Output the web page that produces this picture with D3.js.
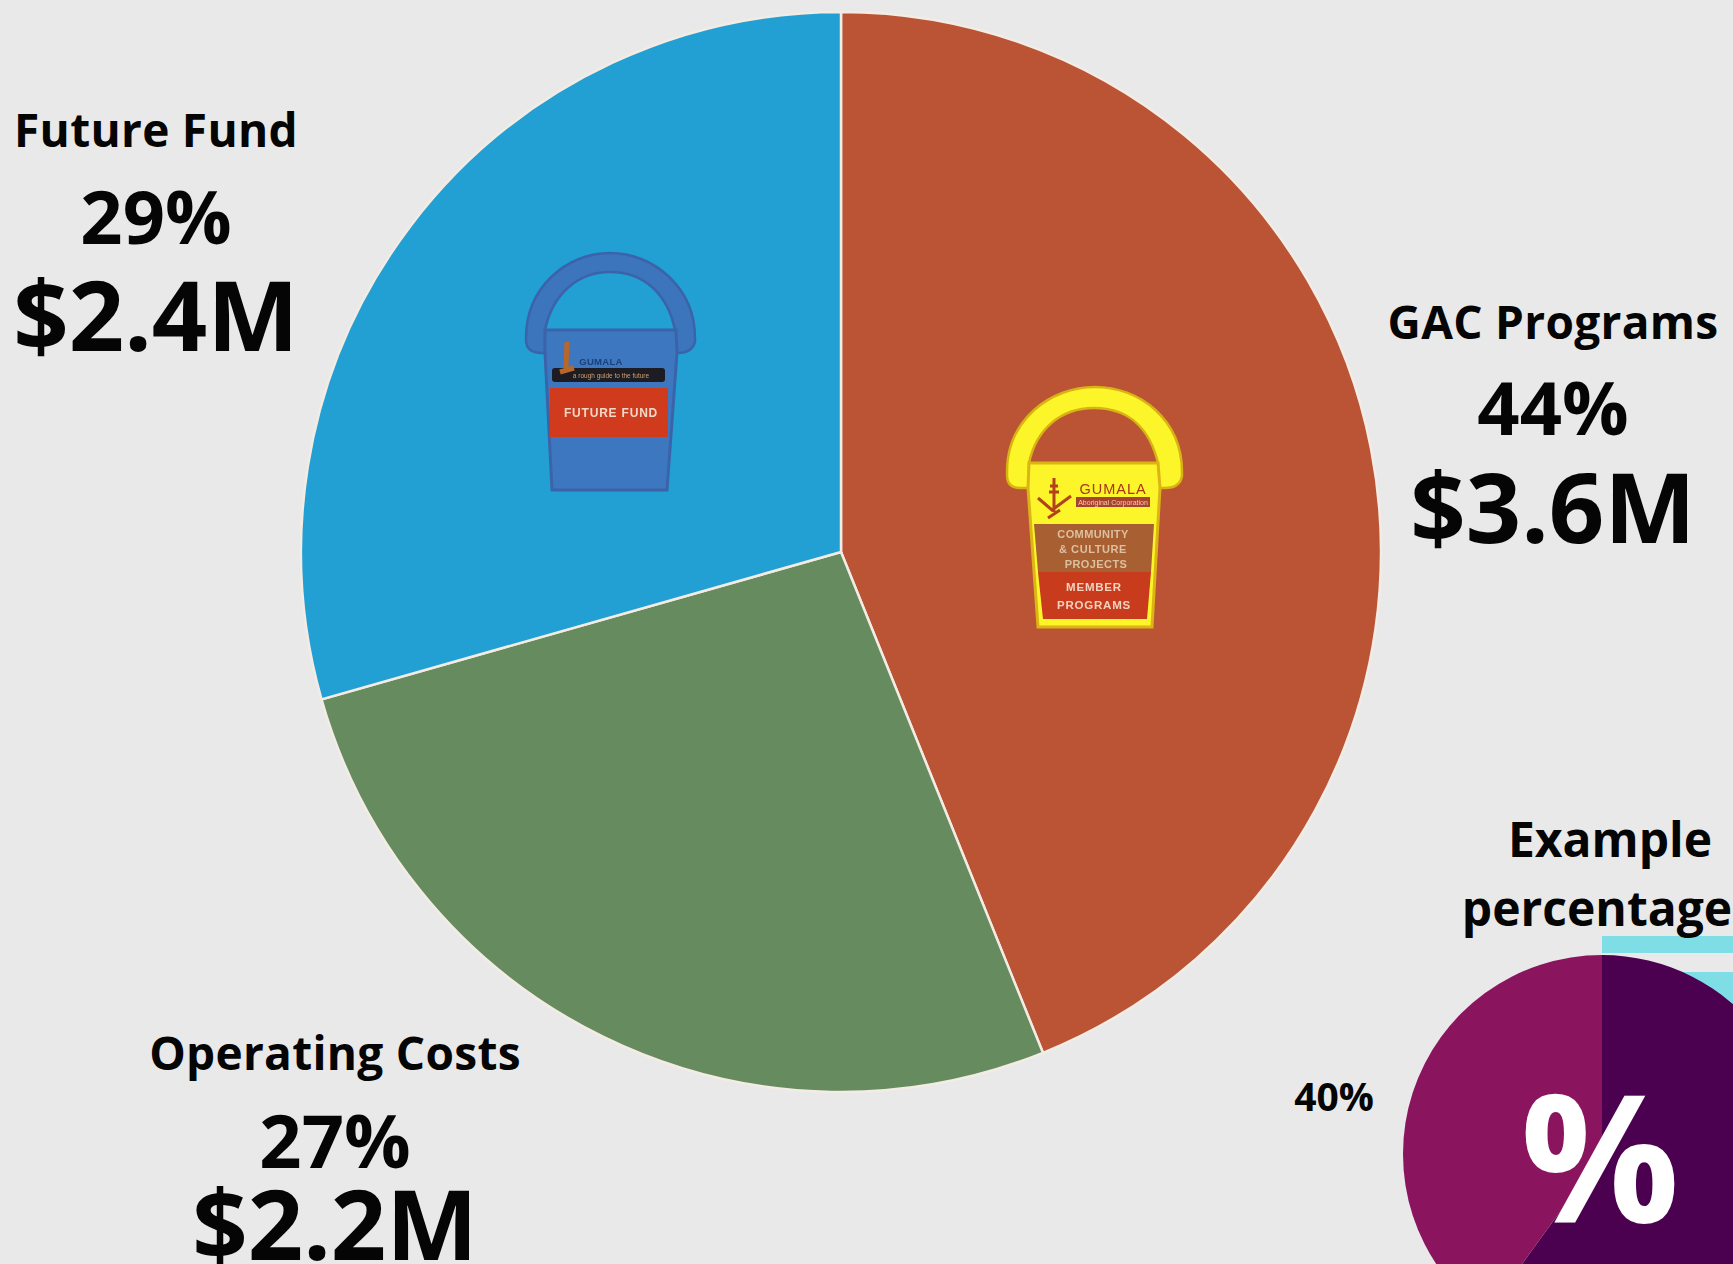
<!DOCTYPE html>
<html><head><meta charset="utf-8">
<script src="https://cdnjs.cloudflare.com/ajax/libs/d3/7.8.5/d3.min.js"></script>
<style>html,body{margin:0;padding:0;background:#e9e9e9;overflow:hidden}svg{display:block}text{font-family:"Open Sans",sans-serif;font-weight:700;fill:#050505;text-anchor:middle}</style>
</head><body><svg id="c" width="1733" height="1264"></svg>
<script>
const categories=["GAC Programs","Operating Costs","Future Fund"];
const shares=[43.9,26.7,29.4];
const percents=["44%","27%","29%"];
const amounts=["$3.6M","$2.2M","$2.4M"];
const colors=["#bb5335","#668b5e","#22a0d4"];
const exampleLabels=["Rest","40%"];
const exampleValues=[60,40];
const exampleColors=["#4c0050","#8a155e"];

const svg=d3.select("#c");
svg.append("rect").attr("width",1733).attr("height",1264).attr("fill","#e9e9e9");
const defs=svg.append("defs");
defs.append("filter").attr("id","soft").append("feGaussianBlur").attr("stdDeviation",0.7);

const pie=d3.pie().sort(null).value(d=>d);
const arc=d3.arc().innerRadius(0).outerRadius(540);
const g=svg.append("g").attr("transform","translate(841,552)");
g.selectAll("path").data(pie(shares)).join("path")
 .attr("d",arc).attr("fill",(d,i)=>colors[i]).attr("stroke","#f3ece4").attr("stroke-width",2.5);

const labelPos=[
 {x:1553,name:339,pct:435,amt:543},
 {x:335,name:1070,pct:1168,amt:1260},
 {x:156,name:147,pct:244,amt:351}];
categories.forEach((c,i)=>{
 const p=labelPos[i];
 svg.append("text").attr("x",p.x).attr("y",p.name).attr("font-size",46).attr("letter-spacing",0.3).text(c);
 svg.append("text").attr("x",p.x).attr("y",p.pct).attr("font-size",74).text(percents[i]);
 svg.append("text").attr("x",p.x).attr("y",p.amt).attr("font-size",97).text(amounts[i]);
});

svg.append("rect").attr("x",1602).attr("y",936).attr("width",131).attr("height",17).attr("fill","#7fdde6");
svg.append("rect").attr("x",1602).attr("y",972).attr("width",131).attr("height",292).attr("fill","#7fdde6");
const ex=svg.append("g").attr("transform","translate(1602,1154)");
ex.selectAll("path").data(pie(exampleValues)).join("path")
 .attr("d",d3.arc().innerRadius(0).outerRadius(199)).attr("fill",(d,i)=>exampleColors[i]);
svg.append("text").attr("x",1600).attr("y",1222).attr("font-size",177).style("fill","#fff").text("%");
svg.append("text").attr("x",1610).attr("y",857).attr("font-size",48).text("Example");
svg.append("text").attr("x",1597).attr("y",926).attr("font-size",48).text("percentage");
svg.append("text").attr("x",1334).attr("y",1111).attr("font-size",39).text(exampleLabels[1]);

function txt(p,x,y,s,t,fill,w,ls){p.append("text").attr("x",x).attr("y",y).attr("font-size",s).attr("letter-spacing",ls||0).style("fill",fill).style("font-family","'Liberation Sans',sans-serif").style("font-weight",w||400).text(t);}

// yellow bucket
const Y=svg.append("g").attr("transform","translate(970,360)").attr("filter","url(#soft)");
Y.append("path").attr("d","M37,112 C37,60 80,27 125,27 C170,27 212,60 212,112 L212,116 Q210,128 195,128 L188,128 L188,103 C180,70 160,48 124,48 C90,48 66,70 59,103 L59,128 L50,128 Q37,128 37,115 Z")
 .attr("fill","#fbf52a").attr("stroke","#d8b312").attr("stroke-width",2.5);
Y.append("path").attr("d","M59,103 L188,103 L190,128 L182,267 L68,267 L58,128 Z").attr("fill","#fbf52a").attr("stroke","#dcb414").attr("stroke-width",3);
Y.append("path").attr("d","M64,164 L184,164 L181,212 L68,212 Z").attr("fill","#a85f32");
Y.append("path").attr("d","M68,212 L181,212 L177,259 L73,259 Z").attr("fill","#c83a1a");
Y.append("rect").attr("x",106).attr("y",137).attr("width",74).attr("height",10).attr("fill","#a8432f");
Y.append("path").attr("d","M84,118 L84,152 M68,138 L82,150 L101,136 M78,158 L90,150 M80,126 L88,126 M79,132 L89,132").attr("stroke","#b5411e").attr("stroke-width",3).attr("fill","none");
txt(Y,143,134,14.5,"GUMALA","#a8341c",400,1);
txt(Y,143,145,7,"Aboriginal Corporation","#f2d0a8");
txt(Y,123,178,11,"COMMUNITY","#dcc0a0",700,0.4);
txt(Y,123,193,11,"& CULTURE","#dcc0a0",700,0.6);
txt(Y,126,208,11,"PROJECTS","#dcc0a0",700,0.4);
txt(Y,124,231,11.5,"MEMBER","#f2d2c0",700,0.8);
txt(Y,124,249,11.5,"PROGRAMS","#f2d2c0",700,0.8);

// blue bucket
const B=svg.append("g").attr("transform","translate(500,230)").attr("filter","url(#soft)");
B.append("path").attr("d","M26,108 C26,58 66,23 110,23 C154,23 195,58 195,108 L195,112 Q192,123 178,123 L175,123 L175,100 C168,66 146,42 110,42 C76,42 52,66 45,100 L45,123 L40,123 Q26,122 26,110 Z")
 .attr("fill","#3c74bd").attr("stroke","#3a64aa").attr("stroke-width",2.5);
B.append("path").attr("d","M45,100 L176,100 L177,123 L167,260 L52,260 L45,123 Z").attr("fill","#3c77c0").attr("stroke","#3a64aa").attr("stroke-width",3);
B.append("rect").attr("x",52).attr("y",138).attr("width",113).attr("height",14).attr("rx",3).attr("fill","#1b1c22");
B.append("rect").attr("x",50).attr("y",158).attr("width",118).attr("height",49).attr("fill","#cf3b1c");
B.append("path").attr("d","M67,112 L66,138 M60,142 L74,138").attr("stroke","#b9662c").attr("stroke-width",5);
txt(B,101,135,9.5,"GUMALA","#1c3f7a",700,0.3);
txt(B,111,148,6.5,"a rough guide to the future","#cfa070");
txt(B,111,187,12,"FUTURE FUND","#f2d8c8",700,0.8);
</script></body></html>
